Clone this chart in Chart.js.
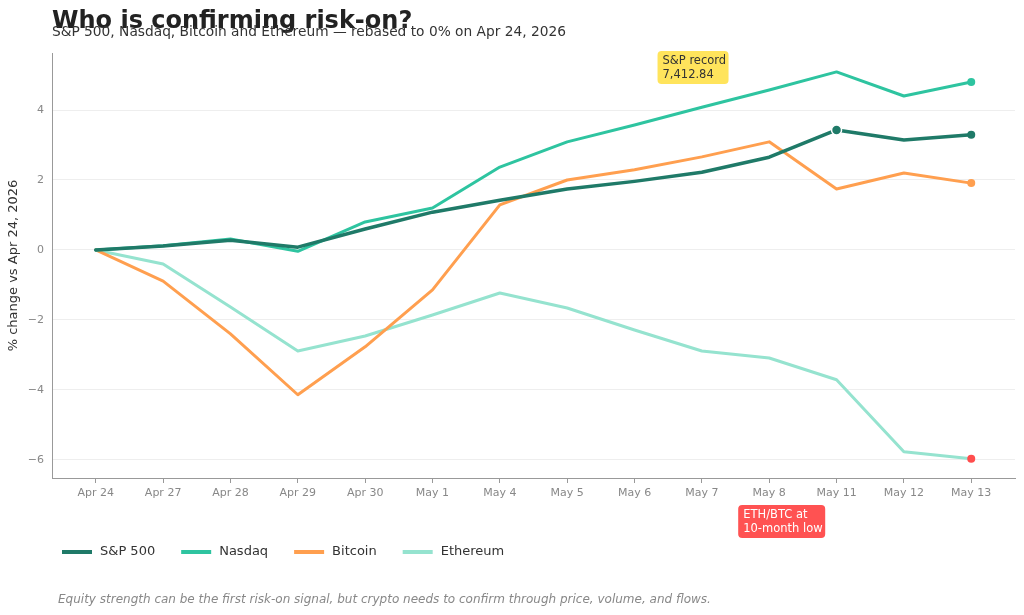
<!DOCTYPE html>
<html>
<head>
<meta charset="utf-8">
<script src="https://cdn.jsdelivr.net/npm/chart.js@4/dist/chart.umd.min.js"></script>
<style>
  html, body { margin: 0; padding: 0; background: #ffffff; }
  #wrap { position: relative; width: 1024px; height: 615px; }
</style>
</head>
<body>
<div id="wrap"><canvas id="chart"></canvas></div>
<script>
// Data
var days = ['Apr 24', 'Apr 27', 'Apr 28', 'Apr 29', 'Apr 30', 'May 1', 'May 4',
            'May 5', 'May 6', 'May 7', 'May 8', 'May 11', 'May 12', 'May 13'];
var spx = [0, 0.11, 0.28, 0.08, 0.6, 1.08, 1.42, 1.74, 1.96, 2.22, 2.65, 3.43, 3.14, 3.29];
var nasdaq = [0, 0.12, 0.31, -0.04, 0.8, 1.2, 2.37, 3.09, 3.57, 4.08, 4.57, 5.09, 4.4, 4.8];
var bitcoin = [0, -0.89, -2.4, -4.14, -2.77, -1.14, 1.29, 2.0, 2.29, 2.66, 3.09, 1.74, 2.2, 1.91];
var ethereum = [0, -0.4, -1.63, -2.89, -2.46, -1.86, -1.23, -1.66, -2.29, -2.89, -3.09, -3.71, -5.77, -5.97];
var yTicks = [-6, -4, -2, 0, 2, 4];

var FONT = "'DejaVu Sans', sans-serif";

function toPoints(arr) {
    return arr.map(function (v, i) { return {x: i, y: v}; });
}

// only show a dot on the last point (and extra indices if given)
function dotRadius(extra, r) {
    return function (ctx) {
        var last = ctx.dataset.data.length - 1;
        if (ctx.dataIndex === last) return 4;
        if (extra.indexOf(ctx.dataIndex) >= 0) return r;
        return 0;
    };
}

// annotation boxes + custom legend + footnote + titles
var extrasPlugin = {
    id: 'extras',
    afterDraw: function (chart) {
        var ctx = chart.ctx;
        var xs = chart.scales.x;
        ctx.save();

        function box(x, y, w, h, fill, color, lines) {
            ctx.fillStyle = fill;
            ctx.beginPath();
            ctx.roundRect(x, y, w, h, 4);
            ctx.fill();
            ctx.fillStyle = color;
            ctx.font = '11.5px ' + FONT;
            ctx.textAlign = 'left';
            ctx.textBaseline = 'middle';
            lines.forEach(function (t, i) {
                ctx.fillText(t, x + 5, y + 10 + i * 14);
            });
        }
        box(xs.getPixelForValue(11) - 179, 51, 71, 33, '#ffe45c', '#333333', ['S&P record', '7,412.84']);
        box(xs.getPixelForValue(10) - 31, 505, 87, 33, '#ff5252', '#ffffff', ['ETH/BTC at', '10-month low']);

        // legend
        var lx = 62, ly = 552;
        ctx.font = '13px ' + FONT;
        ctx.textBaseline = 'middle';
        chart.data.datasets.forEach(function (ds) {
            ctx.fillStyle = ds.borderColor;
            ctx.fillRect(lx, ly - 2, 30, 4);
            ctx.fillStyle = '#333333';
            ctx.fillText(ds.label, lx + 38, ly);
            lx += 38 + ctx.measureText(ds.label).width + 26;
        });

        // footnote
        ctx.font = 'italic 12px ' + FONT;
        ctx.fillStyle = '#888888';
        ctx.fillText('Equity strength can be the first risk-on signal, but crypto needs to confirm through price, volume, and flows.', 58, 600);

        // title + subtitle
        ctx.fillStyle = '#222222';
        ctx.font = 'bold 24px ' + FONT;
        ctx.textBaseline = 'alphabetic';
        ctx.fillText('Who is confirming risk-on?', 52, 28);
        ctx.fillStyle = '#333333';
        ctx.font = '13.75px ' + FONT;
        ctx.fillText('S&P 500, Nasdaq, Bitcoin and Ethereum \u2014 rebased to 0% on Apr 24, 2026', 52, 36);
        ctx.restore();
    }
};

var ctx = document.getElementById('chart').getContext('2d');
var chart = new Chart(ctx, {
    type: 'line',
    data: {
        datasets: [
            {label: 'S&P 500', data: toPoints(spx), borderColor: '#1f7a68', backgroundColor: '#1f7a68',
             borderWidth: 3.5, pointRadius: dotRadius([11], 5), pointBorderColor: '#ffffff',
             pointBorderWidth: function (c) { return c.dataIndex === 11 ? 1.5 : 0; }, order: 1},
            {label: 'Nasdaq', data: toPoints(nasdaq), borderColor: '#2ec4a0', backgroundColor: '#2ec4a0',
             borderWidth: 3, pointRadius: dotRadius([], 0), pointBorderWidth: 0, order: 2},
            {label: 'Bitcoin', data: toPoints(bitcoin), borderColor: '#ff9f4f', backgroundColor: '#ff9f4f',
             borderWidth: 3, pointRadius: dotRadius([], 0), pointBorderWidth: 0, order: 3},
            {label: 'Ethereum', data: toPoints(ethereum), borderColor: '#95e3cf', backgroundColor: '#ff4d4d',
             borderWidth: 3, pointRadius: dotRadius([], 0), pointBorderWidth: 0, order: 4}
        ]
    },
    options: {
        responsive: true,
        maintainAspectRatio: false,
        animation: false,
        layout: {padding: {top: 53, right: 9, left: 0, bottom: 0}},
        plugins: {
            legend: {display: false},
            tooltip: {enabled: false}
        },
        elements: {line: {tension: 0, borderJoinStyle: 'round', borderCapStyle: 'round'}},
        scales: {
            x: {
                type: 'linear',
                min: -0.65,
                max: days.length - 1 + 0.65,
                afterBuildTicks: function (scale) {
                    scale.ticks = days.map(function (d, i) { return {value: i}; });
                },
                afterFit: function (scale) { scale.height = 137; },
                ticks: {
                    autoSkip: false,
                    maxRotation: 0,
                    padding: 4,
                    color: '#888888',
                    font: {family: FONT, size: 11},
                    callback: function (v) { return days[v]; }
                },
                grid: {drawOnChartArea: false, drawTicks: true, tickLength: 5, color: '#999999'},
                border: {color: '#999999', width: 1}
            },
            y: {
                min: -6.52,
                max: 5.63,
                afterBuildTicks: function (scale) {
                    scale.ticks = yTicks.map(function (v) { return {value: v}; });
                },
                afterFit: function (scale) { scale.width = 52; },
                ticks: {
                    padding: 8,
                    color: '#888888',
                    font: {family: FONT, size: 11},
                    callback: function (v) { return v < 0 ? '\u2212' + Math.abs(v) : String(v); }
                },
                grid: {color: '#eeeeee', drawTicks: false},
                border: {color: '#999999', width: 1},
                title: {
                    display: true,
                    text: '% change vs Apr 24, 2026',
                    color: '#333333',
                    font: {family: FONT, size: 13},
                    padding: {top: 6, bottom: 0}
                }
            }
        }
    },
    plugins: [extrasPlugin]
});
</script>
</body>
</html>
